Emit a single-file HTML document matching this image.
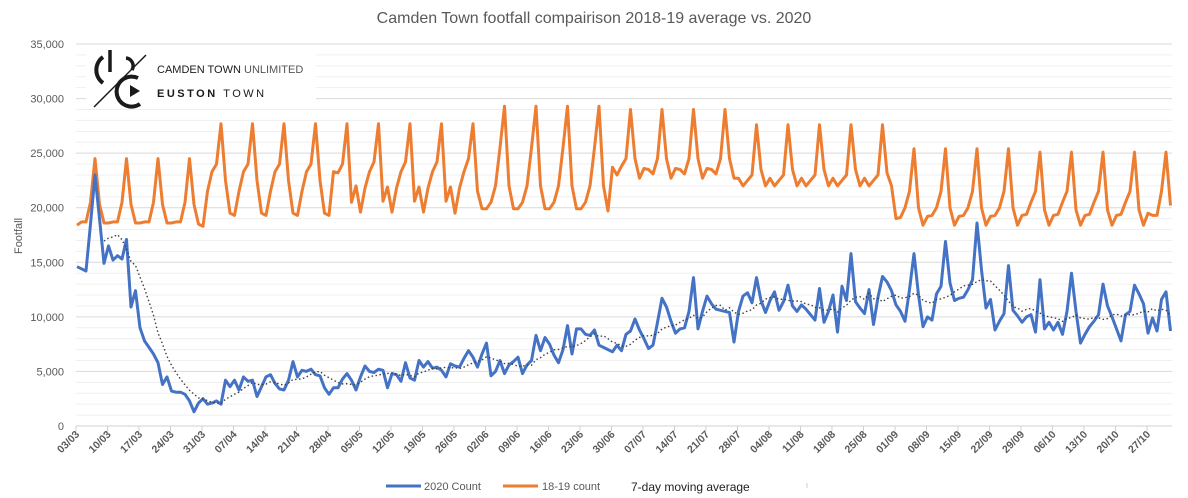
<!DOCTYPE html>
<html><head><meta charset="utf-8"><style>
body{margin:0;background:#fff;}
svg{display:block;font-family:"Liberation Sans",sans-serif;}
</style></head><body>
<svg id="chart" width="1188" height="498" viewBox="0 0 1188 498">
<rect width="1188" height="498" fill="#fff"/>
<text x="594" y="23" text-anchor="middle" font-size="16" fill="#595959">Camden Town footfall compairison 2018-19 average vs. 2020</text>
<g id="grid"></g>
<g id="yaxis"></g>
<text x="0" y="0" transform="translate(22,236) rotate(-90)" text-anchor="middle" font-size="11" fill="#595959">Footfall</text>
<g id="xaxis"></g>
<g id="logo">
<rect x="86" y="47" width="230" height="62" fill="#fff"/>
<path d="M103 57 A16 16 0 0 0 103 83" fill="none" stroke="#1a1a1a" stroke-width="4"/>
<line x1="110" y1="50" x2="110" y2="72" stroke="#1a1a1a" stroke-width="3.5"/>
<line x1="94" y1="107" x2="146" y2="55" stroke="#1a1a1a" stroke-width="1.5"/>
<path d="M126 58 A8 8 0 0 1 132 70" fill="none" stroke="#1a1a1a" stroke-width="3.5"/>
<path d="M138 78 A15 15 0 1 0 140 104" fill="none" stroke="#1a1a1a" stroke-width="4"/>
<polygon points="130,85 130,97 140,91" fill="#1a1a1a"/>
<text x="157" y="73" font-size="11" fill="#1a1a1a">CAMDEN TOWN <tspan fill="#555">UNLIMITED</tspan></text>
<text x="157" y="97" font-size="11" font-weight="bold" letter-spacing="2.5" fill="#1a1a1a">EUSTON <tspan font-weight="normal">TOWN</tspan></text>
</g>
<g id="series"></g>
<g>
<line x1="386" y1="486" x2="421" y2="486" stroke="#4472c4" stroke-width="3"/>
<text x="424" y="490" font-size="11" fill="#595959">2020 Count</text>
<line x1="503" y1="486" x2="538" y2="486" stroke="#ed7d31" stroke-width="3"/>
<text x="542" y="490" font-size="11" fill="#595959">18-19 count</text>
<text x="631" y="491" font-size="12" fill="#222">7-day moving average</text>
<line x1="807" y1="483" x2="807" y2="488" stroke="#ccc" stroke-width="1"/>
</g>
</svg>
<script>
const xLabels = ["03/03","10/03","17/03","24/03","31/03","07/04","14/04","21/04","28/04","05/05","12/05","19/05","26/05","02/06","09/06","16/06","23/06","30/06","07/07","14/07","21/07","28/07","04/08","11/08","18/08","25/08","01/09","08/09","15/09","22/09","29/09","06/10","13/10","20/10","27/10"];
const yTicks = [0,5000,10000,15000,20000,25000,30000,35000];
const count2020 = [14600,14400,14200,18500,23000,19000,14900,16500,15200,15600,15300,17100,10900,12400,9000,7800,7200,6600,5800,3800,4500,3200,3100,3100,2900,2300,1300,2100,2500,2000,2100,2300,2000,4200,3600,4200,3300,4500,4100,4200,2700,3600,4500,4700,3900,3400,3300,4200,5900,4500,5100,5000,5200,4700,4600,3500,2900,3500,3500,4300,4800,4200,3300,4500,5500,5000,4900,5200,5100,3500,4800,4700,4100,5800,4400,4200,6000,5400,5900,5300,5400,5100,4500,5700,5500,5400,6200,6900,6300,5400,6600,7600,4600,5000,6000,4800,5600,5900,6300,4800,5600,6000,8300,6900,8100,7500,6500,5800,7000,9200,6600,8900,8900,8400,8300,8800,7400,7200,7000,6800,7400,6900,8400,8700,9800,8800,8000,7100,7400,9500,11700,10900,9600,8500,8900,9000,10500,13600,8900,10500,11900,11200,10700,10600,10500,10400,7700,10500,11900,12200,11300,13600,11500,10400,11500,12300,10600,11400,12900,11000,10500,11100,10700,10200,9700,12600,9500,10500,12000,8600,12800,11500,15800,11400,10800,10300,12500,9300,11800,13700,13200,12400,11100,10500,9600,12500,15800,12000,9100,10000,9700,12100,12800,16900,13100,11500,11700,11800,12500,13400,18600,14300,10800,11600,8800,9600,10300,14700,10600,10100,9500,10000,10200,8600,13400,8900,9500,8800,9500,8400,10500,14000,10500,7600,8400,9100,9600,10200,13000,11000,10000,8900,7800,10200,10500,12900,12100,11200,8500,9900,8700,11600,12300,8700];
const count1819 = [
18400,18700,18700,20500,24500,20300,18600,
18600,18700,18700,20500,24500,20300,18600,
18600,18700,18700,20500,24500,20300,18600,
18600,18700,18700,20500,24500,20300,18500,
18300,21500,23300,24000,27700,22500,19500,
19300,21500,23300,24000,27700,22500,19500,
19300,21500,23300,24000,27700,22500,19500,
19300,21500,23300,24000,27700,22500,19500,
19300,23300,23200,24000,27700,20500,22000,
19600,21800,23300,24200,27700,20600,21900,
19600,21800,23300,24200,27700,20600,21900,
19600,21800,23300,24200,27700,20600,21900,
19500,21800,23300,24500,27700,21500,19900,
19900,20500,22000,25500,29300,22000,19900,
19900,20500,22000,25500,29300,22000,19900,
19900,20500,22000,25500,29300,22000,19900,
19900,20500,22000,25500,29300,22000,19700,
23700,23000,23800,24500,29000,24500,22700,
23600,23500,23100,24500,29000,24500,22700,
23600,23500,23100,24500,29000,24500,22700,
23600,23500,23100,24500,29000,24500,22700,
22700,22000,22500,23000,27600,23500,22000,
22700,22000,22500,23000,27600,23500,22000,
22700,22000,22500,23000,27600,23500,22000,
22700,22000,22500,23000,27600,23500,22000,
22700,22000,22500,23000,27600,23200,22000,
19000,19100,20000,21500,25400,20000,18400,
19200,19300,20000,21500,25400,20000,18400,
19200,19300,20000,21500,25400,20000,18400,
19200,19300,20000,21500,25400,20000,18400,
19300,19400,20500,21500,25100,19800,18400,
19300,19400,20500,21500,25100,19800,18400,
19300,19400,20500,21500,25100,19800,18400,
19300,19400,20500,21500,25100,19800,18400,
19500,19300,19300,21500,25100,20200];

const NS = "http://www.w3.org/2000/svg";
const X0 = 77, DX = 4.5, Y0 = 426, YMAX = 35000, YTOP = 44;
function xScale(i){ return X0 + i*DX; }
function yScale(v){ return Y0 - v/YMAX*(Y0-YTOP); }
function mk(tag, attrs, parent){ const e=document.createElementNS(NS,tag); for(const k in attrs) e.setAttribute(k,attrs[k]); parent.appendChild(e); return e; }

const grid = document.getElementById('grid');
for(let v=1000; v<=YMAX; v+=1000){
  const major = v%5000===0;
  const l = mk('line',{x1:76,x2:1172,y1:yScale(v),y2:yScale(v),stroke:major?'#d9d9d9':'#efefef','stroke-width':1},grid);
  
  
}
const ya = document.getElementById('yaxis');
yTicks.forEach(v=>{
  const t = mk('text',{x:64,y:yScale(v)+4,'text-anchor':'end','font-size':11,fill:'#595959'},ya);
  t.textContent = v.toLocaleString('en-US');
  
  
});
const xa = document.getElementById('xaxis');
const axl = mk('line',{x1:76,x2:1172,y1:Y0,y2:Y0,stroke:'#d0d0d0','stroke-width':1},xa);


xLabels.forEach((lab,k)=>{
  const tx = X0-1 + k*7*DX;
  const tk = mk('line',{x1:tx,x2:tx,y1:Y0,y2:Y0+5,stroke:'#d0d0d0','stroke-width':1},xa);
  
  
  const t = mk('text',{transform:`translate(${tx+4},${Y0+9}) rotate(-45)`,'text-anchor':'end','font-size':10.5,'font-weight':'bold',fill:'#595959'},xa);
  t.textContent = lab;
  
  
});

const series = document.getElementById('series');
function pathOf(arr, start){ let d=''; for(let i=start;i<arr.length;i++){ if(arr[i]==null) continue; d += (d?'L':'M')+xScale(i).toFixed(1)+' '+yScale(arr[i]).toFixed(1); } return d; }
const po = mk('path',{d:pathOf(count1819,0),fill:'none',stroke:'#ed7d31','stroke-width':3,'stroke-linejoin':'round'},series);


const pb = mk('path',{d:pathOf(count2020,0),fill:'none',stroke:'#4472c4','stroke-width':3,'stroke-linejoin':'round'},series);


const ma = count2020.map((v,i)=>{ if(i<6) return null; let s=0; for(let j=i-6;j<=i;j++) s+=count2020[j]; return s/7; });
const pm = mk('path',{d:pathOf(ma,6),fill:'none',stroke:'#404040','stroke-width':1.4,'stroke-dasharray':'1.5 2.5'},series);


</script>
</body></html>
